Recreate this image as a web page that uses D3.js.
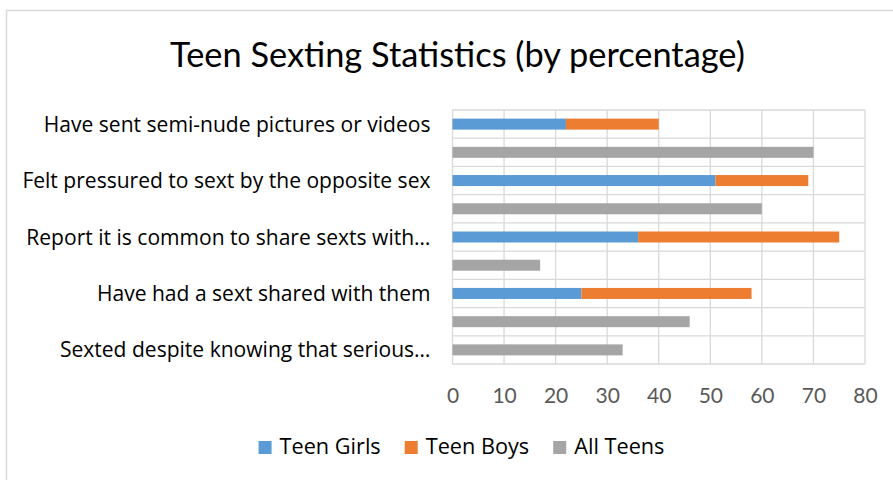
<!DOCTYPE html>
<html>
<head>
<meta charset="utf-8">
<script src="https://cdn.jsdelivr.net/npm/d3@7"></script>
<style>
  html, body { margin: 0; padding: 0; background: #fff; }
  svg { display: block; font-family: "Open Sans", Lato, sans-serif; }
</style>
</head>
<body>
<svg id="chart" width="893" height="480"></svg>
<script>
// ---- data ----
const rowLabels = [
  "Have sent semi-nude pictures or videos",
  "",
  "Felt pressured to sext by the opposite sex",
  "",
  "Report it is common to share sexts with\u2026",
  "",
  "Have had a sext shared with them",
  "",
  "Sexted despite knowing that serious\u2026"
];
const teenGirls = [22, 0, 51, 0, 36, 0, 25, 0, 0];
const teenBoys  = [18, 0, 18, 0, 39, 0, 33, 0, 0];
const allTeens  = [0, 70, 0, 60, 0, 17, 0, 46, 33];
const seriesNames = ["Teen Girls", "Teen Boys", "All Teens"];
const seriesColors = ["#5b9bd5", "#ed7d31", "#a5a5a5"];
const xTicks = [0, 10, 20, 30, 40, 50, 60, 70, 80];
const titleText = "Teen Sexting Statistics (by percentage)";

// ---- layout ----
const W = 893, H = 480;
const plot = { left: 452.5, right: 865, top: 110, bottom: 364 };
const svg = d3.select("#chart");

// fit a text element's font size so its width matches a target width
function fitWidth(sel, target, base) {
  sel.attr("font-size", base);
  const w = sel.node().getComputedTextLength();
  if (w > 0) sel.attr("font-size", base * target / w);
}

// chart frame (top and left edge visible)
svg.append("line").attr("x1", 6).attr("x2", W).attr("y1", 10.5).attr("y2", 10.5)
  .attr("stroke", "#d9d9d9").attr("stroke-width", 1.5);
svg.append("line").attr("x1", 6.5).attr("x2", 6.5).attr("y1", 10).attr("y2", H)
  .attr("stroke", "#d9d9d9").attr("stroke-width", 1.5);

// title
const title = svg.append("text").attr("x", 457.5).attr("y", 66.7)
  .attr("text-anchor", "middle").attr("fill", "#000")
  .attr("font-family", "Lato, 'Open Sans', sans-serif")
  .text(titleText);
fitWidth(title, 575, 33);

const rows = d3.range(rowLabels.length);
const x = d3.scaleLinear().domain([0, 80]).range([plot.left, plot.right]);
const y = d3.scaleBand().domain(rows).range([plot.top, plot.bottom])
  .paddingInner(0.61).paddingOuter(0.305);
const step = y.step();

// gridlines
const grid = svg.append("g");
grid.selectAll("line.v").data(xTicks).join("line")
  .attr("x1", d => x(d)).attr("x2", d => x(d))
  .attr("y1", plot.top).attr("y2", plot.bottom)
  .attr("stroke", "#d9d9d9").attr("stroke-width", 1.3);
grid.selectAll("line.h").data(d3.range(rows.length + 1)).join("line")
  .attr("x1", plot.left).attr("x2", plot.right)
  .attr("y1", i => plot.top + i * step).attr("y2", i => plot.top + i * step)
  .attr("stroke", "#d9d9d9").attr("stroke-width", 1.3);

// stacked bars
const table = rows.map(i => ({ row: i, "Teen Girls": teenGirls[i], "Teen Boys": teenBoys[i], "All Teens": allTeens[i] }));
const stacked = d3.stack().keys(seriesNames)(table);
svg.append("g").selectAll("g").data(stacked).join("g")
  .attr("fill", (d, i) => seriesColors[i])
  .selectAll("rect").data(d => d.filter(s => s[1] - s[0] > 0)).join("rect")
  .attr("x", d => x(d[0]))
  .attr("width", d => x(d[1]) - x(d[0]))
  .attr("y", d => y(d.data.row))
  .attr("height", y.bandwidth());

// category axis
const yAxis = svg.append("g").attr("transform", `translate(${plot.left},0)`)
  .call(d3.axisLeft(y).tickSize(0).tickPadding(22).tickFormat(i => rowLabels[i]));
yAxis.select(".domain").remove();
const ylabels = yAxis.selectAll("text").attr("fill", "#000")
  .attr("font-family", "'Open Sans', Lato, sans-serif").attr("dy", "0.36em");
// size chosen so the first label spans the reference width
fitWidth(yAxis.select(".tick text"), 387, 19);
const labelSize = +yAxis.select(".tick text").attr("font-size");
ylabels.attr("font-size", labelSize);

// value axis
const xAxis = svg.append("g").attr("transform", `translate(0,${plot.bottom})`)
  .call(d3.axisBottom(x).tickValues(xTicks).tickSize(0).tickFormat(d3.format("d")));
xAxis.select(".domain").remove();
xAxis.selectAll("text").attr("font-size", 21).attr("fill", "#595959")
  .attr("font-family", "Lato, 'Open Sans', sans-serif")
  .attr("y", 39.3).attr("dy", 0);

// legend
const legend = svg.append("g");
const items = legend.selectAll("g").data(seriesNames).join("g");
items.append("rect").attr("width", 13).attr("height", 13).attr("y", 441)
  .attr("fill", (d, i) => seriesColors[i]);
items.append("text").attr("x", 21).attr("y", 454.3)
  .attr("font-family", "'Open Sans', Lato, sans-serif")
  .attr("font-size", labelSize * 1.03).attr("fill", "#000").text(d => d);
let cx = 0;
const gaps = [];
items.each(function () {
  const w = this.getBBox().width;
  d3.select(this).attr("transform", `translate(${cx},0)`);
  cx += w + 24;
});
const totalW = cx - 24;
legend.attr("transform", `translate(${461.5 - totalW / 2},0)`);
</script>
</body>
</html>
